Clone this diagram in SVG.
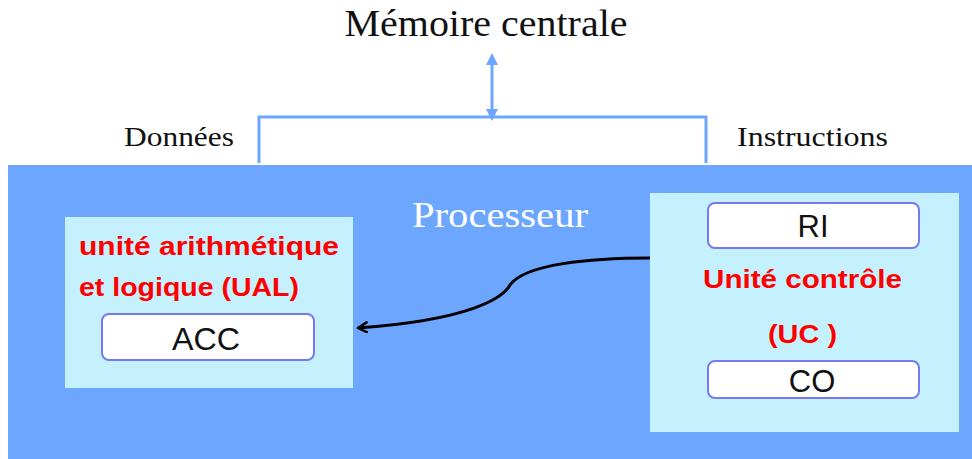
<svg xmlns="http://www.w3.org/2000/svg" width="972" height="459" viewBox="0 0 972 459">
<defs>
<style>
.serif{font-family:"Liberation Serif","DejaVu Serif",serif;}
.sans{font-family:"Liberation Sans","DejaVu Sans",sans-serif;}
.red{fill:#FF0000;font-weight:bold;font-size:26px;font-family:"Liberation Sans","DejaVu Sans",sans-serif;}
.unit{fill:#C5F1FE;}
.reg{fill:#FFFFFF;stroke:#7878F0;stroke-width:2;}
.regtxt{font-family:"Liberation Sans","DejaVu Sans",sans-serif;font-size:31px;fill:#111;text-anchor:middle;}
.bus{fill:none;stroke:#6EA6FE;stroke-width:3;}
</style>
<marker id="bh" viewBox="0 0 10 10" refX="5" refY="5" markerWidth="4" markerHeight="4" orient="auto-start-reverse">
<path d="M0,0 L10,5 L0,10 z" fill="#6EA6FE"/>
</marker>
<marker id="open" viewBox="0 0 12 12" refX="10" refY="6" markerWidth="12" markerHeight="12" markerUnits="userSpaceOnUse" orient="auto">
<path d="M1,1 L10,6 L1,11" fill="none" stroke="#000" stroke-width="2.4" stroke-linejoin="round" stroke-linecap="round"/>
</marker>
</defs>
<rect width="972" height="459" fill="#FFFFFF"/>
<g id="memoire">
<text class="serif" x="486" y="36" font-size="38" text-anchor="middle" fill="#111" textLength="283" lengthAdjust="spacingAndGlyphs">Mémoire centrale</text>
</g>
<g id="labels">
<text class="serif" x="124" y="146" font-size="28" fill="#111" textLength="110" lengthAdjust="spacingAndGlyphs">Données</text>
<text class="serif" x="737" y="146" font-size="28" fill="#111" textLength="151" lengthAdjust="spacingAndGlyphs">Instructions</text>
</g>
<g id="processeur">
<rect x="8" y="165" width="964" height="294" fill="#6DA6FE"/>
<text class="serif" x="412" y="227" font-size="36" fill="#FFFFFF" textLength="176" lengthAdjust="spacingAndGlyphs">Processeur</text>
</g>
<g id="ual">
<rect class="unit" x="65" y="217" width="288" height="171"/>
<text class="red" x="79" y="255" textLength="260" lengthAdjust="spacingAndGlyphs">unité arithmétique</text>
<text class="red" x="79" y="296" textLength="220" lengthAdjust="spacingAndGlyphs">et logique (UAL)</text>
</g>
<g id="acc">
<rect class="reg" x="102" y="314" width="212" height="46" rx="7"/>
<text class="regtxt" x="206" y="350" textLength="68" lengthAdjust="spacingAndGlyphs">ACC</text>
</g>
<g id="uc">
<rect class="unit" x="650" y="193" width="309" height="239"/>
<text class="red" x="703" y="288" textLength="199" lengthAdjust="spacingAndGlyphs">Unité contrôle</text>
<text class="red" x="768" y="343" textLength="69" lengthAdjust="spacingAndGlyphs">(UC )</text>
</g>
<g id="ri">
<rect class="reg" x="708" y="203" width="211" height="45" rx="7"/>
<text class="regtxt" x="813" y="237">RI</text>
</g>
<g id="co">
<rect class="reg" x="708" y="361" width="211" height="37" rx="7"/>
<text class="regtxt" x="812" y="392">CO</text>
</g>
<g id="connectors">
<path class="bus" d="M259,163 L259,117 L706,117 L706,163"/>
<line class="bus" x1="492" y1="115" x2="492" y2="59" marker-start="url(#bh)" marker-end="url(#bh)"/>
<path d="M650,258 C590,258 525,264 510,285 C503,298 470,320 358,328" fill="none" stroke="#000" stroke-width="3" marker-end="url(#open)"/>
</g>
</svg>
